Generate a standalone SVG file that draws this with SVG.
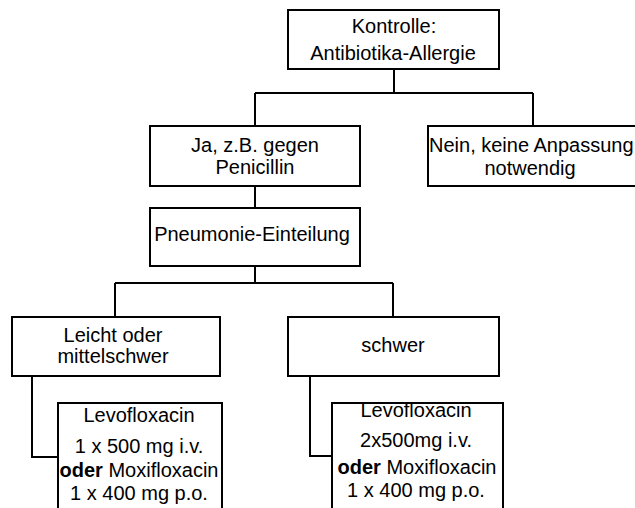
<svg xmlns="http://www.w3.org/2000/svg" width="635" height="508" viewBox="0 0 635 508">
<style>
.box{fill:#fff;stroke:#000;stroke-width:2}
.ln{fill:none;stroke:#000;stroke-width:2}
text{font-family:"Liberation Sans",Arial,sans-serif;font-size:20px;fill:#000}
.c{text-anchor:middle}
.b{font-weight:bold}
</style>
<rect width="635" height="508" fill="#fff"/>
<g id="connectors" class="ln">
<path d="M394 69V93M255 93H533M255 93V126M533 93V126"/>
<path d="M255 186V208"/>
<path d="M255 266V283M115 283H393M115 283V317M393 283V317"/>
<path d="M32 376V457H58"/>
<path d="M310 376V456H332"/>
</g>
<g id="n-kontrolle">
<rect class="box" x="288" y="10" width="211" height="59"/>
<text class="c" x="394" y="33">Kontrolle:</text>
<text class="c" x="393" y="60">Antibiotika-Allergie</text>
</g>
<g id="n-ja">
<rect class="box" x="150" y="126" width="210" height="60"/>
<text class="c" x="255" y="152">Ja, z.B. gegen</text>
<text class="c" x="255" y="174">Penicillin</text>
</g>
<g id="n-nein">
<rect class="box" x="428" y="126" width="215" height="60"/>
<text x="429" y="152">Nein, keine Anpassung</text>
<text class="c" x="530" y="175">notwendig</text>
</g>
<g id="n-pneumonie">
<rect class="box" x="150" y="208" width="210" height="58"/>
<text class="c" x="252" y="241">Pneumonie-Einteilung</text>
</g>
<g id="n-leicht">
<rect class="box" x="12" y="317" width="208" height="59"/>
<text class="c" x="113" y="342">Leicht oder</text>
<text class="c" x="113" y="363">mittelschwer</text>
</g>
<g id="n-schwer">
<rect class="box" x="288" y="317" width="211" height="59"/>
<text class="c" x="393" y="352">schwer</text>
</g>
<g id="n-leicht-therapie">
<rect class="box" x="58" y="403" width="164" height="110"/>
<text class="c" x="139" y="422">Levofloxacin</text>
<text class="c" x="139" y="453">1 x 500 mg i.v.</text>
<text class="c" x="139" y="477"><tspan class="b">oder</tspan> Moxifloxacin</text>
<text class="c" x="139" y="500">1 x 400 mg p.o.</text>
</g>
<g id="n-schwer-therapie">
<rect class="box" x="332" y="403" width="171" height="110"/>
<text class="c" x="416" y="417">Levofloxacin</text>
<text class="c" x="416" y="447">2x500mg i.v.</text>
<text class="c" x="417" y="474"><tspan class="b">oder</tspan> Moxifloxacin</text>
<text class="c" x="416" y="497">1 x 400 mg p.o.</text>
</g>
</svg>
